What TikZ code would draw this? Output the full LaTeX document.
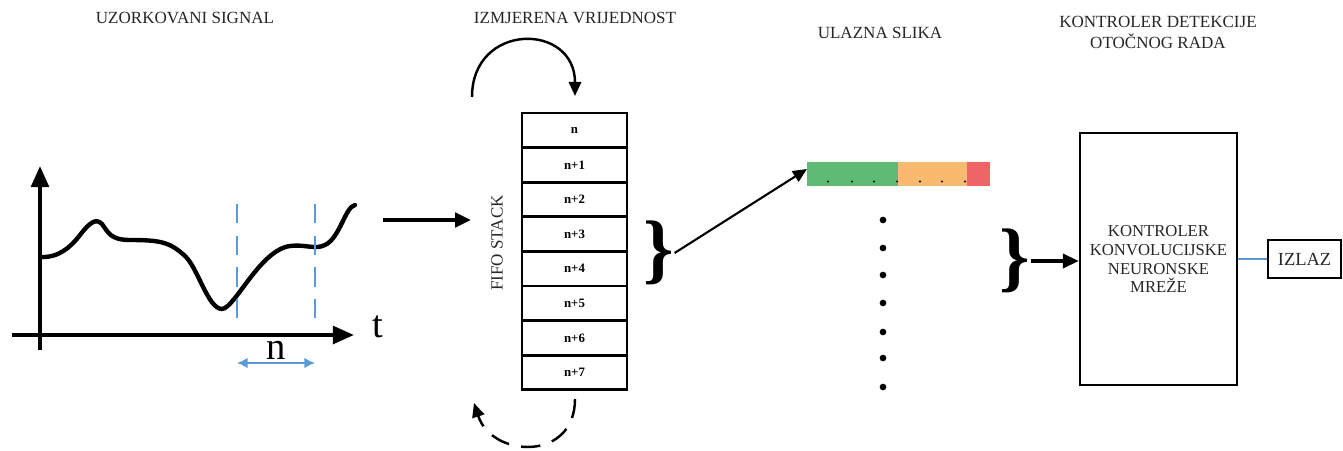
\documentclass[tikz,border=0pt]{standalone}
\usepackage{fontspec}
\setmainfont{Liberation Serif}
\usetikzlibrary{positioning,arrows.meta}

\definecolor{zelena}{HTML}{5DBB73}
\definecolor{narancasta}{HTML}{F8BA6E}
\definecolor{crvena}{HTML}{EF6464}
\definecolor{plava}{HTML}{5B9BD5}

\tikzset{
  naslov/.style={font=\fontsize{9.7}{12}\selectfont, align=center, text=black!85},
  celija/.style={draw, line width=1.5pt, minimum width=2.1cm, minimum height=0.692cm,
    inner sep=0pt, font=\fontsize{7.3}{8}\selectfont\bfseries},
  zagrada/.style={inner sep=0pt, font=\fontsize{44}{44}\selectfont\bfseries},
  kutija/.style={draw, line width=1.4pt, inner sep=0pt, align=center,
    font=\fontsize{9.5}{10.8}\selectfont, text=black!85},
  strelica/.style={-{Triangle[length=9pt,width=8pt]}},
}

\begin{document}
\begin{tikzpicture}[x=0.02cm, y=-0.02cm]

    \useasboundingbox (0,0) rectangle (1343,450);

    % Naslovi iznad svakog dijela
    \node[naslov] (t1) at (185,18) {UZORKOVANI SIGNAL};
    \node[naslov] (t2) at (575,18) {IZMJERENA VRIJEDNOST};
    \node[naslov] (t3) at (880,33) {ULAZNA SLIKA};
    \node[naslov] (t4) at (1158,32) {KONTROLER DETEKCIJE\\OTOČNOG RADA};

    % Uzorkovani signal: osi i krivulja
    \draw[line width=2.3pt, -{Triangle[length=12pt,width=10pt]}] (40,350) -- (40,166);
    \draw[line width=2.3pt, -{Triangle[length=12pt,width=10pt]}] (12,335) -- (354,335);
    \draw[line width=2.5pt, line cap=round] (40,257)
        .. controls (58,258) and (70,248) .. (80,235)
        .. controls (90,222) and (96,218) .. (102,224)
        .. controls (108,232) and (110,240) .. (130,240)
        .. controls (160,240) and (170,242) .. (185,256)
        .. controls (198,268) and (208,309) .. (222,309)
        .. controls (235,308) and (260,250) .. (290,246)
        .. controls (305,244) and (315,250) .. (325,245)
        .. controls (340,238) and (345,207) .. (355,205);
    \node[font=\fontsize{22}{22}\selectfont] (t) at (378,327) {t};

    % Prozor od n uzoraka
    \draw[plava, line width=1.1pt, dash pattern=on 11pt off 7pt] (237,204) -- (237,323);
    \draw[plava, line width=1.1pt, dash pattern=on 11pt off 7pt] (315,204) -- (315,323);
    \coordinate (pl) at (237,363);
    \coordinate (pd) at (315,363);
    \draw[plava, line width=1.1pt, {Latex[length=6pt,width=6pt]}-{Latex[length=6pt,width=6pt]}] (pl) -- (pd);
    \node[font=\fontsize{22}{22}\selectfont] (n) at (276,350) {n};

    % Ulaz u FIFO stog
    \coordinate (signal) at (383,220);
    \coordinate (ulaz) at (471,220);
    \draw[strelica, line width=2.3pt] (signal) -- (ulaz);

    % FIFO stog
    \foreach \t [count=\i from 0] in {n,n+1,n+2,n+3,n+4,n+5,n+6,n+7}
        \node[celija] (c\i) at (574.5,{113+34.6*(\i+0.5)}) {\t};
    \node[naslov, rotate=90] (fifo) at (497,243) {FIFO STACK};

    % Kruzne strelice iznad i ispod stoga
    \coordinate (gl) at (472,97);
    \coordinate (gd) at (575,96);
    \draw[line width=1.4pt, -{Triangle[length=8pt,width=7pt]}]
        (gl) .. controls (472,22) and (575,22) .. (gd);
    \coordinate (dd) at (575,399);
    \coordinate (dl) at (474,403);
    \draw[line width=1.4pt, dash pattern=on 11pt off 7pt, -{Triangle[length=8pt,width=7pt]}]
        (dd) .. controls (575,462) and (492,458) .. (dl);

    % Vitica i strelica prema ulaznoj slici
    \node[zagrada] (z1) at (659,253) {\}};
    \coordinate (slika) at (807,169);
    \draw[line width=1.2pt, -{Triangle[length=8pt,width=7pt]}] (z1.east) -- (slika);

    % Ulazna slika
    \fill[zelena] (807,162) rectangle (898,186);
    \fill[narancasta] (898,162) rectangle (967,186);
    \fill[crvena] (967,162) rectangle (990,186);
    \foreach \x in {828,852,874,897,920,942,965}
        \fill (\x,181.5) circle (0.6pt);
    \foreach \y in {220,248,275,303,332,358,387}
        \fill (883,\y) circle (1.9pt);

    % Kontroler konvolucijske neuronske mreze
    \node[zagrada] (z2) at (1015,261) {\}};
    \node[kutija, minimum width=3.14cm, minimum height=5.04cm] (cnn) at (1158.5,259)
        {KONTROLER\\KONVOLUCIJSKE\\NEURONSKE\\MREŽE};
    \draw[strelica, line width=1.8pt] (z2.east) -- (cnn.west |- z2.east);

    % Izlaz
    \node[kutija, minimum width=1.46cm, minimum height=0.76cm, font=\fontsize{10.5}{12}\selectfont]
        (izlaz) at (1304.5,259) {IZLAZ};
    \draw[plava, line width=0.6pt] (cnn.east) -- (izlaz.west);

\end{tikzpicture}
\end{document}
